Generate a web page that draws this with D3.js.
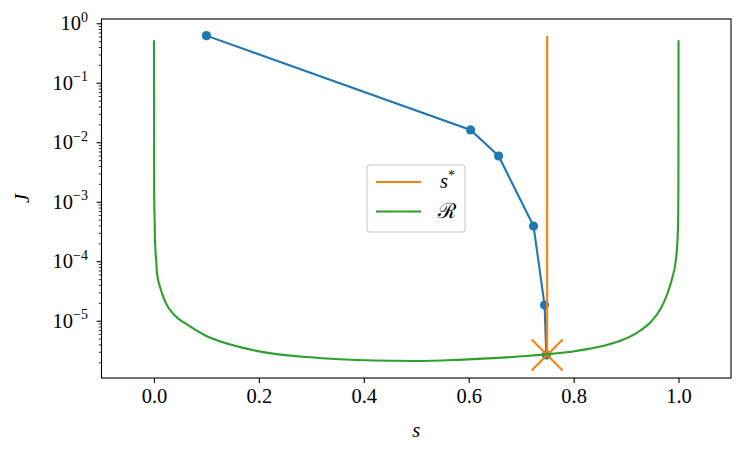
<!DOCTYPE html>
<html>
<head>
<meta charset="utf-8">
<script src="https://cdn.jsdelivr.net/npm/d3@7"></script>
<style>
  body { margin: 0; background: #fff; }
  text { font-family: "Liberation Serif", serif; fill: #000; }
</style>
</head>
<body>
<div id="chart"></div>
<script>
// data
let iterS = [0.1, 0.6036, 0.657, 0.7236, 0.7446, 0.748];
let iterJ = [0.62, 0.0161, 0.00588, 3.9e-4, 1.84e-5, 2.66e-6];

let sStar = 0.7495;
let sStarJ = [2.66e-6, 0.62];

let rS = [0, 0.0003, 0.0013, 0.0019, 0.0046, 0.0057, 0.0133, 0.0229, 0.0389, 0.0642, 0.099, 0.164,
          0.227, 0.291, 0.354, 0.42, 0.5, 0.58, 0.646, 0.709, 0.761, 0.799, 0.831, 0.863,
          0.894, 0.922, 0.947, 0.9662, 0.979, 0.9886, 0.9949, 0.998, 0.9993, 0.9997, 1.0];
let rJ = [0.52, 1.6e-3, 4.9e-4, 2.3e-4, 9.3e-5, 6.3e-5, 3.3e-5, 1.96e-5, 1.25e-5, 8.5e-6, 5.6e-6, 3.6e-6,
          2.8e-6, 2.45e-6, 2.25e-6, 2.14e-6, 2.1e-6, 2.2e-6, 2.35e-6, 2.55e-6, 2.8e-6, 3.05e-6, 3.4e-6, 3.9e-6,
          4.8e-6, 6.4e-6, 9.5e-6, 1.6e-5, 2.9e-5, 5.5e-5, 1.05e-4, 2.3e-4, 5e-4, 1.6e-3, 0.52];

let xTicks = [0, 0.2, 0.4, 0.6, 0.8, 1.0];
let yMajor = [1, 1e-1, 1e-2, 1e-3, 1e-4, 1e-5];
let yExp = ['0', '\u22121', '\u22122', '\u22123', '\u22124', '\u22125'];
let legendLabels = ['s', 'R'];

// chart setup
let svgWidth = 747;
let svgHeight = 456;
let margin = { top: 19, right: 16, bottom: 78, left: 101.5 };
let width = svgWidth - margin.left - margin.right;
let height = svgHeight - margin.top - margin.bottom;

let svg = d3.select('#chart').append('svg')
    .attr('width', svgWidth)
    .attr('height', svgHeight);

let g = svg.append('g')
    .attr('transform', `translate(${margin.left}, ${margin.top})`);

let x = d3.scaleLinear().domain([-0.1, 1.1]).range([0, width]);
let y = d3.scaleLog().domain([1.09e-6, 1.18]).range([height, 0]);

let blue = '#1f77b4', orange = '#ff7f0e', green = '#2ca02c';

let line = d3.line().x(d => x(d[0])).y(d => y(d[1]));

// blue iterates
g.append('path')
    .datum(d3.zip(iterS, iterJ))
    .attr('d', line)
    .attr('fill', 'none')
    .attr('stroke', blue)
    .attr('stroke-width', 2.1);

g.selectAll('.pt')
    .data(d3.zip(iterS, iterJ))
    .join('circle')
    .attr('cx', d => x(d[0]))
    .attr('cy', d => y(d[1]))
    .attr('r', 4.6)
    .attr('fill', blue);

// s* line and marker
g.append('path')
    .datum(sStarJ.map(j => [sStar, j]))
    .attr('d', line)
    .attr('stroke', orange)
    .attr('stroke-width', 2.1);

let mx = x(sStar), my = y(sStarJ[0]), ms = 15.5;
g.append('path')
    .attr('d', `M${mx - ms},${my - ms}L${mx + ms},${my + ms}M${mx - ms},${my + ms}L${mx + ms},${my - ms}`)
    .attr('stroke', orange)
    .attr('stroke-width', 2.1);

// R curve
g.append('path')
    .datum(d3.zip(rS, rJ))
    .attr('d', d3.line().x(d => x(d[0])).y(d => y(d[1])).curve(d3.curveMonotoneX))
    .attr('fill', 'none')
    .attr('stroke', green)
    .attr('stroke-width', 2.1);

// axes
let xAxis = g.append('g')
    .attr('transform', `translate(0, ${height})`)
    .call(d3.axisBottom(x).tickValues(xTicks).tickSize(4.9).tickPadding(6).tickFormat(d3.format('.1f')));
xAxis.select('.domain').remove();
xAxis.selectAll('line').attr('stroke-width', 1.1);
xAxis.selectAll('text')
    .attr('font-family', 'Liberation Serif')
    .attr('font-size', 20.5)
    .attr('fill', '#000');

let minors = y.ticks().filter(v => !yMajor.some(m => Math.abs(v / m - 1) < 1e-6));
let yMinor = g.append('g')
    .call(d3.axisLeft(y).tickValues(minors).tickSize(2.8).tickFormat(''));
yMinor.select('.domain').remove();
yMinor.selectAll('line').attr('stroke-width', 0.8);

let yAxis = g.append('g')
    .call(d3.axisLeft(y).tickValues(yMajor).tickSize(4.9).tickFormat(''));
yAxis.select('.domain').remove();
yAxis.selectAll('line').attr('stroke-width', 1.1);

yMajor.forEach((v, i) => {
    let t = g.append('text')
        .attr('x', -13.5)
        .attr('y', y(v) + 7)
        .attr('text-anchor', 'end')
        .attr('font-size', 20.5);
    t.append('tspan').text('10');
    t.append('tspan').attr('font-size', 14).attr('dy', -8.5).text(yExp[i]);
});

// frame
g.append('rect')
    .attr('width', width)
    .attr('height', height)
    .attr('fill', 'none')
    .attr('stroke', '#000')
    .attr('stroke-width', 1.1);

// axis labels
svg.append('text')
    .attr('x', margin.left + width / 2)
    .attr('y', 437)
    .attr('text-anchor', 'middle')
    .attr('font-size', 20.5)
    .attr('font-style', 'italic')
    .text('s');

svg.append('text')
    .attr('transform', `translate(29, ${margin.top + height / 2}) rotate(-90)`)
    .attr('text-anchor', 'middle')
    .attr('font-size', 20.5)
    .attr('font-style', 'italic')
    .text('J');

// legend
let legend = svg.append('g').attr('transform', 'translate(367, 165)');
legend.append('rect')
    .attr('width', 98)
    .attr('height', 67)
    .attr('rx', 3)
    .attr('fill', '#fff')
    .attr('fill-opacity', 0.8)
    .attr('stroke', '#cccccc')
    .attr('stroke-width', 1.1);

[orange, green].forEach((c, i) => {
    let ly = 17 + i * 29.5;
    legend.append('line')
        .attr('x1', 9).attr('x2', 54)
        .attr('y1', ly).attr('y2', ly)
        .attr('stroke', c)
        .attr('stroke-width', 2.1);
});

let l1 = legend.append('text')
    .attr('x', 73).attr('y', 23)
    .attr('font-size', 20.5)
    .attr('font-style', 'italic');
l1.append('tspan').text(legendLabels[0]);
l1.append('tspan').attr('font-size', 14).attr('dy', -8).attr('font-style', 'normal').text('*');

legend.append('text')
    .attr('x', 71).attr('y', 53)
    .attr('font-size', 21)
    .attr('font-family', 'DejaVu Serif')
    .text('\u211B');
</script>
</body>
</html>
